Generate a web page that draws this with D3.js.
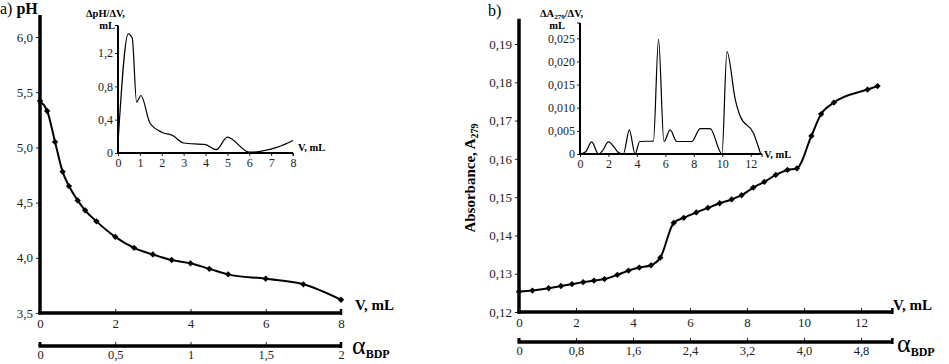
<!DOCTYPE html>
<html><head><meta charset="utf-8">
<script src="https://cdn.jsdelivr.net/npm/d3@7"></script>
<style>
body{margin:0;background:#fff;}
svg text{font-family:"Liberation Serif","Times New Roman",serif !important;fill:#222;}
</style></head>
<body><svg id="c" width="949" height="364"></svg>
<script>
// ---- Data ----
const phV = [0,0.19,0.4,0.6,0.77,1.0,1.2,1.5,2.0,2.5,3.0,3.5,4.0,4.5,5.0,6.0,7.0,8.0];
const phVal = [5.42,5.33,5.05,4.78,4.65,4.52,4.43,4.33,4.19,4.09,4.03,3.98,3.95,3.90,3.85,3.81,3.76,3.62];
const dphV = [0,0.47,0.65,0.85,1.05,1.46,2.0,2.5,3.0,4.0,4.5,5.0,6.0,6.5,7.3,8.0];
const dphVal = [0.12,1.43,1.38,0.61,0.69,0.36,0.25,0.21,0.12,0.10,0.04,0.19,0.01,0.02,0.07,0.15];
const absV = [0,0.47,1.04,1.47,1.86,2.25,2.63,3.0,3.45,3.84,4.22,4.63,4.96,5.43,5.78,6.22,6.63,7.04,7.46,7.81,8.22,8.61,9.01,9.42,9.75,10.26,10.6,11.05,12.23,12.58];
const absVal = [0.1253,0.1256,0.1262,0.1268,0.1273,0.1278,0.1282,0.1286,0.1297,0.1308,0.1316,0.1322,0.1342,0.1433,0.1446,0.1460,0.1472,0.1484,0.1494,0.1505,0.1525,0.1540,0.1558,0.1571,0.1575,0.1660,0.1717,0.1747,0.1781,0.1790];
const dAV = [0,0.4,0.82,1.3,1.6,2.0,2.4,2.7,3.05,3.47,3.87,4.2,5.16,5.52,5.9,6.34,6.8,7.86,8.45,9.15,9.98,10.33,10.92,11.27,12.2,12.7];
const dAVal = [0,0.0005,0.0026,0,0.0008,0.0026,0.0015,0.0003,0,0.0052,0,0.0027,0.0028,0.0248,0.0027,0.0052,0.0027,0.0027,0.0055,0.0055,0,0.0221,0.0117,0.0081,0.0045,0];

// tick labels
const phTicks = [3.5,4.0,4.5,5.0,5.5,6.0];
const phTickLabels = ["3,5","4,0","4,5","5,0","5,5","6,0"];
const vTicksA = [0,2,4,6,8];
const alphaTicksA = [0,0.5,1,1.5,2];
const alphaLabelsA = ["0","0,5","1","1,5","2"];
const dphTicks = [0,0.4,0.8,1.2];
const dphLabels = ["0","0,4","0,8","1,2"];
const insetVTicksA = [0,1,2,3,4,5,6,7,8];
const absTicks = [0.12,0.13,0.14,0.15,0.16,0.17,0.18,0.19];
const absLabels = ["0,12","0,13","0,14","0,15","0,16","0,17","0,18","0,19"];
const vTicksB = [0,2,4,6,8,10,12];
const alphaTicksB = [0,0.8,1.6,2.4,3.2,4.0,4.8];
const alphaLabelsB = ["0","0,8","1,6","2,4","3,2","4,0","4,8"];
const dATicks = [0,0.005,0.010,0.015,0.020,0.025];
const dALabels = ["0","0,005","0,010","0,015","0,020","0,025"];
const insetVTicksB = [0,2,4,6,8,10,12];

const SERIF = '"Liberation Serif","Times New Roman",serif';
const svg = d3.select("#c");

function styleTicks(sel,size){
  sel.attr("font-family",null);
  sel.selectAll("text").style("font-size",size+"px").style("font-family",SERIF).style("fill","#222");
  sel.selectAll("line").attr("stroke","#222");
  sel.select(".domain").remove();
}

function mainAxes(o){
  const g = svg.append("g");
  const ya = d3.axisLeft(o.y).tickValues(o.yTicks).tickFormat((d,i)=>o.yLabels[i]).tickSize(4).tickPadding(3);
  const gy = g.append("g").attr("transform",`translate(${o.x.range()[0]},0)`).call(ya);
  styleTicks(gy,13);
  g.append("line").attr("x1",o.x.range()[0]).attr("x2",o.x.range()[0])
    .attr("y1",o.y(o.yTop)).attr("y2",o.y.range()[0]+1.5).attr("stroke","#000").attr("stroke-width",3.5);
  const xa = d3.axisBottom(o.x).tickValues(o.xTicks).tickFormat(d=>d).tickSize(-4).tickPadding(6);
  const gx = g.append("g").attr("transform",`translate(0,${o.y.range()[0]})`).call(xa);
  styleTicks(gx,13);
  g.append("line").attr("x1",o.x.range()[0]-1.5).attr("x2",o.x(o.xEnd))
    .attr("y1",o.y.range()[0]).attr("y2",o.y.range()[0]).attr("stroke","#000").attr("stroke-width",3.5);
  g.append("line").attr("x1",o.x(o.xEnd)).attr("x2",o.x(o.xEnd))
    .attr("y1",o.y.range()[0]-4).attr("y2",o.y.range()[0]+2).attr("stroke","#000").attr("stroke-width",2.5);
  const a = d3.scaleLinear().domain([0,o.alphaMax]).range([o.x.range()[0], o.x(o.alphaMax/o.alphaPerV)]);
  const aa = d3.axisBottom(a).tickValues(o.aTicks).tickFormat((d,i)=>o.aLabels[i]).tickSize(-4).tickPadding(4);
  const ga = g.append("g").attr("transform",`translate(0,${o.aY})`).call(aa);
  styleTicks(ga,12.5);
  g.append("line").attr("x1",o.x.range()[0]-1.5).attr("x2",o.x(o.aEndV))
    .attr("y1",o.aY).attr("y2",o.aY).attr("stroke","#000").attr("stroke-width",3.5);
  g.append("line").attr("x1",o.x.range()[0]).attr("x2",o.x.range()[0])
    .attr("y1",o.aY-4).attr("y2",o.aY).attr("stroke","#000").attr("stroke-width",3);
  g.append("line").attr("x1",o.x(o.aEndV)).attr("x2",o.x(o.aEndV))
    .attr("y1",o.aY-4).attr("y2",o.aY+2).attr("stroke","#000").attr("stroke-width",2.5);
  const line = d3.line().x((d,i)=>o.x(o.vx[i])).y((d,i)=>o.y(o.vy[i])).curve(d3.curveMonotoneX);
  g.append("path").attr("d",line(o.vx)).attr("fill","none").attr("stroke","#000").attr("stroke-width",2);
  g.selectAll(".pt").data(o.vx).enter().append("path")
    .attr("d",d3.symbol(d3.symbolSquare, 20)())
    .attr("transform",(d,i)=>`translate(${o.x(o.vx[i])},${o.y(o.vy[i])}) rotate(45)`).attr("fill","#000");
  return g;
}

function inset(o){
  const g = svg.append("g");
  const ya = d3.axisLeft(o.y).tickValues(o.yTicks).tickFormat((d,i)=>o.yLabels[i]).tickSize(3).tickPadding(2);
  const gy = g.append("g").attr("transform",`translate(${o.x.range()[0]},0)`).call(ya);
  styleTicks(gy,12);
  g.append("line").attr("x1",o.x.range()[0]).attr("x2",o.x.range()[0])
    .attr("y1",o.y(o.yTop)).attr("y2",o.y.range()[0]+1).attr("stroke","#000").attr("stroke-width",2);
  g.append("line").attr("x1",o.x.range()[0]-3).attr("x2",o.x.range()[0])
    .attr("y1",o.y(o.yTop)).attr("y2",o.y(o.yTop)).attr("stroke","#000").attr("stroke-width",1);
  const xa = d3.axisBottom(o.x).tickValues(o.xTicks).tickFormat(d=>d).tickSize(3).tickPadding(2);
  const gx = g.append("g").attr("transform",`translate(0,${o.y.range()[0]})`).call(xa);
  styleTicks(gx,12);
  g.append("line").attr("x1",o.x.range()[0]-1).attr("x2",o.x(o.xEnd))
    .attr("y1",o.y.range()[0]).attr("y2",o.y.range()[0]).attr("stroke","#000").attr("stroke-width",2);
  g.append("line").attr("x1",o.x(o.xEnd)).attr("x2",o.x(o.xEnd))
    .attr("y1",o.y.range()[0]).attr("y2",o.y.range()[0]+3).attr("stroke","#000").attr("stroke-width",1);
  const line = d3.line().x((d,i)=>o.x(o.vx[i])).y((d,i)=>o.y(o.vy[i])).curve(d3.curveMonotoneX);
  g.append("path").attr("d",line(o.vx)).attr("fill","none").attr("stroke","#000").attr("stroke-width",1.2);
  return g;
}

// Panel a
const xA = d3.scaleLinear().domain([0,8]).range([40,341]);
const yA = d3.scaleLinear().domain([3.5,6.0]).range([313,37]);
mainAxes({x:xA,y:yA,yTicks:phTicks,yLabels:phTickLabels,yTop:6.2,xTicks:vTicksA,xEnd:8,
  alphaMax:2,alphaPerV:0.25,aTicks:alphaTicksA,aLabels:alphaLabelsA,aY:346,aEndV:8,vx:phV,vy:phVal});
const xAi = d3.scaleLinear().domain([0,8]).range([118,293]);
const yAi = d3.scaleLinear().domain([0,1.2]).range([153,53]);
inset({x:xAi,y:yAi,yTicks:dphTicks,yLabels:dphLabels,yTop:1.53,xTicks:insetVTicksA,xEnd:8,vx:dphV,vy:dphVal});

// Panel b
const xB = d3.scaleLinear().domain([0,12]).range([519,861]);
const yB = d3.scaleLinear().domain([0.12,0.19]).range([312,44]);
mainAxes({x:xB,y:yB,yTicks:absTicks,yLabels:absLabels,yTop:0.1966,xTicks:vTicksB,xEnd:13.1,
  alphaMax:4.8,alphaPerV:0.4,aTicks:alphaTicksB,aLabels:alphaLabelsB,aY:342,aEndV:13.1,vx:absV,vy:absVal});
const xBi = d3.scaleLinear().domain([0,12]).range([580,750.7]);
const yBi = d3.scaleLinear().domain([0,0.025]).range([154,38.3]);
inset({x:xBi,y:yBi,yTicks:dATicks,yLabels:dALabels,yTop:0.0283,xTicks:insetVTicksB,xEnd:12.8,vx:dAV,vy:dAVal});

// Titles and labels
function txt(x,y,s,size,bold,anchor){
  return svg.append("text").attr("x",x).attr("y",y).text(s).style("font-size",size+"px")
    .style("font-weight",bold?"bold":"normal").attr("text-anchor",anchor||"start").style("fill","#000");
}
const ta = svg.append("text").attr("x",0).attr("y",14).style("font-size","16px").style("fill","#000");
ta.append("tspan").text("a) ");
ta.append("tspan").text("pH").style("font-weight","bold");
txt(488,16,"b)",16,false);
txt(86,17,"ΔpH/ΔV,",10.5,true);
txt(115,29,"mL",10.5,true,"end");
const tb = svg.append("text").attr("x",540).attr("y",17).style("font-size","10.5px").style("font-weight","bold").style("fill","#000");
tb.append("tspan").text("ΔA");
tb.append("tspan").text("279").style("font-size","7px").attr("dy",2);
tb.append("tspan").text("/ΔV,").attr("dy",-2);
txt(565,29,"mL",10.5,true,"end");
txt(298,151,"V, mL",10.5,true);
txt(764,158,"V, mL",10.5,true);
txt(355,310,"V, mL",15,true);
txt(893,310,"V, mL",15,true);
function alpha(x,y){
  const t = svg.append("text").attr("x",x).attr("y",y).style("fill","#000");
  t.append("tspan").text("α").style("font-size","26px");
  t.append("tspan").text("BDP").style("font-size","12px").style("font-weight","bold").attr("dy",4);
}
alpha(352,354);
alpha(897,352);
const ab = svg.append("text").attr("transform","translate(475,178) rotate(-90)").attr("text-anchor","middle")
  .style("font-size","15px").style("font-weight","bold").style("fill","#000");
ab.append("tspan").text("Absorbance, A");
ab.append("tspan").text("279").style("font-size","10px").attr("dy",3);
</script></body></html>
